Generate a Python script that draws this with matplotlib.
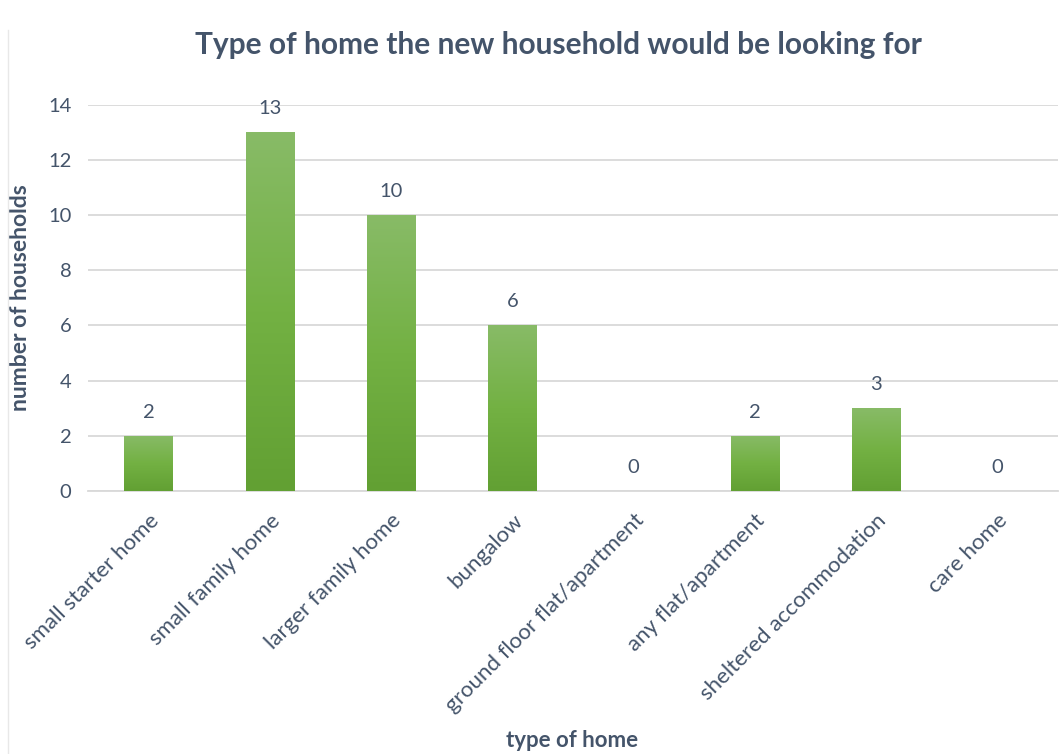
import matplotlib.pyplot as plt
import numpy as np
from matplotlib.colors import LinearSegmentedColormap
from matplotlib.lines import Line2D

plt.rcParams['font.family'] = ['Lato', 'DejaVu Sans']

categories = ['small starter home', 'small family home', 'larger family home', 'bungalow',
              'ground floor flat/apartment', 'any flat/apartment', 'sheltered accommodation',
              'care home']
households = [2, 13, 10, 6, 0, 2, 3, 0]
yticks = [0, 2, 4, 6, 8, 10, 12, 14]

text_col = '#44546A'
grid_col = '#D9D9D9'

fig = plt.figure(figsize=(10.6, 7.54), dpi=100)
ax = fig.add_axes([0.083, 0.349, 0.915, 0.512])

x = np.arange(len(categories))
bars = ax.bar(x, households, width=0.4, color='none', zorder=3)

# vertical green gradient inside each bar
cmap = LinearSegmentedColormap.from_list('grn', ['#62A033', '#73B143', '#88BB67'])
grad = np.linspace(0, 1, 256).reshape(-1, 1)
for b in bars:
    if b.get_height() == 0:
        continue
    im = ax.imshow(grad, cmap=cmap, origin='lower', aspect='auto', zorder=3,
                   extent=[b.get_x(), b.get_x() + b.get_width(), 0, b.get_height()])
    im.set_clip_path(b)

for xi, v in zip(x, households):
    ax.text(xi, v + 0.55, str(v), ha='center', va='bottom', fontsize=14.5, color=text_col)

ax.set_xlim(-0.5, len(categories) - 0.5)
ax.set_ylim(0, 14)
ax.set_yticks(yticks)
ax.yaxis.grid(True, color=grid_col, lw=1.3)
ax.set_axisbelow(True)
for s in ['top', 'right', 'left']:
    ax.spines[s].set_visible(False)
ax.spines['bottom'].set_color(grid_col)
ax.spines['bottom'].set_linewidth(1.3)
ax.tick_params(length=0, labelsize=14.5, labelcolor=text_col, pad=12)
ax.set_xticks(x)
ax.set_xticklabels(categories, rotation=45, ha='right', rotation_mode='anchor', fontsize=16)
ax.tick_params(axis='x', pad=14)

ax.set_ylabel('number of households', fontsize=16.5, fontweight='bold', color=text_col, labelpad=12)
fig.text(0.54, 0.018, 'type of home', ha='center', va='center', fontsize=16,
         fontweight='bold', color=text_col)
fig.text(0.527, 0.94, 'Type of home the new household would be looking for', ha='center',
         va='center', fontsize=21.5, fontweight='bold', color=text_col)

# faint chart-area border on the left
fig.add_artist(Line2D([0.008, 0.008], [0, 0.96], color='#E8E8E8', lw=1, transform=fig.transFigure))

fig.savefig('out.png', dpi=100)
